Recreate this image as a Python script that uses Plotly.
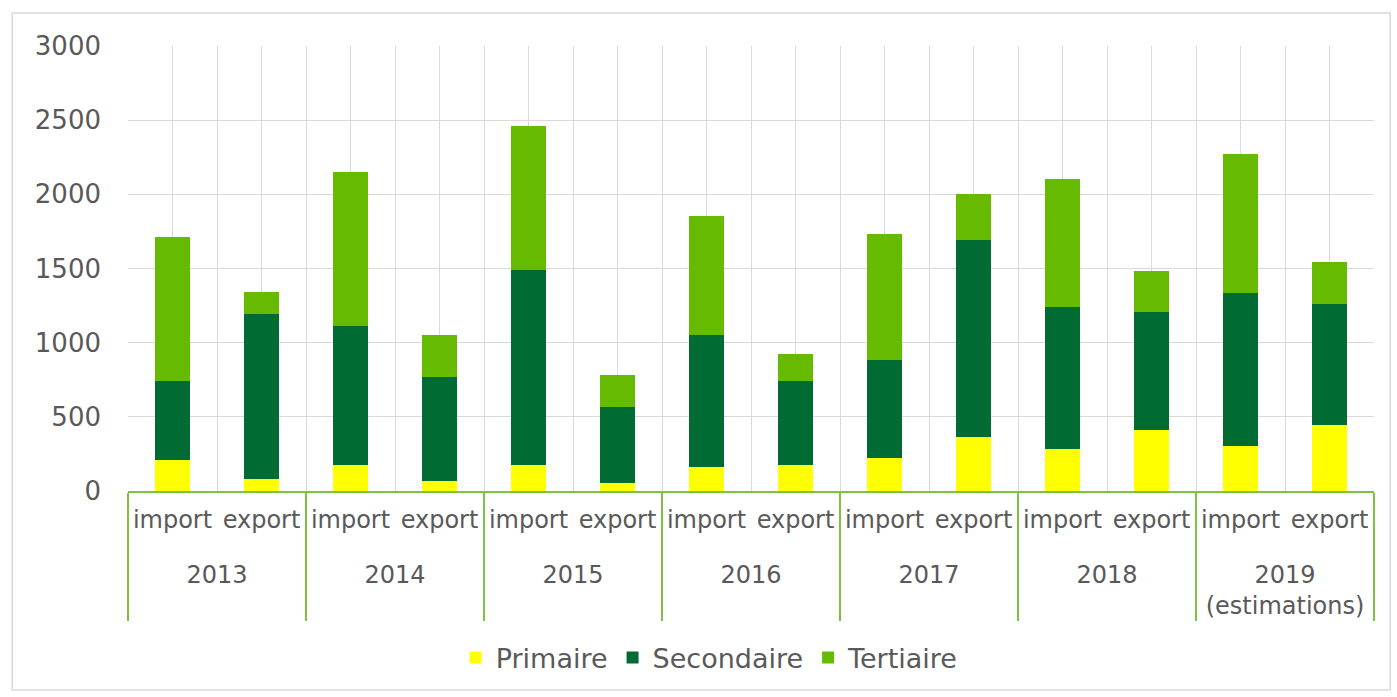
import plotly.graph_objects as go

years = ["<br>2013", "<br>2013", "<br>2014", "<br>2014", "<br>2015", "<br>2015",
         "<br>2016", "<br>2016", "<br>2017", "<br>2017", "<br>2018", "<br>2018",
         "<br>2019<br>(estimations)", "<br>2019<br>(estimations)"]
flows = ["import", "export"] * 7

primaire = [209, 83, 175, 70, 175, 56, 164, 175, 225, 366, 285, 411, 303, 445]
secondaire = [533, 1108, 940, 701, 1313, 512, 890, 567, 658, 1324, 954, 798, 1030, 814]
tertiaire = [973, 151, 1034, 279, 973, 214, 802, 180, 848, 310, 865, 274, 941, 285]

series_names = ["Primaire", "Secondaire", "Tertiaire"]
series_colors = ["#FFFF00", "#006B33", "#66BB00"]
series_values = [primaire, secondaire, tertiaire]

text_color = "#595959"
green_line = "#7DC242"
grid_color = "#D9D9D9"
font_family = "DejaVu Sans, Verdana, sans-serif"

fig = go.Figure()
for name, color, vals in zip(series_names, series_colors, series_values):
    fig.add_trace(go.Bar(x=[years, flows], y=vals, name=name,
                         marker=dict(color=color, line=dict(width=0))))

# helper axis for the extra vertical gridlines through category centres
fig.add_trace(go.Scatter(x=[-0.5, 13.5], y=[0, 0], xaxis="x2", mode="lines",
                         line=dict(width=0), showlegend=False, hoverinfo="skip"))

fig.update_layout(
    width=1397, height=697,
    barmode="stack", bargap=0.61,
    paper_bgcolor="white", plot_bgcolor="white",
    margin=dict(l=128, r=23, t=46, b=206),
    font=dict(family=font_family, color=text_color, size=24),
    xaxis=dict(type="multicategory", showgrid=True, gridcolor=grid_color, gridwidth=1,
               showline=True, linecolor=green_line, linewidth=1.5,
               showdividers=True, dividercolor=green_line, dividerwidth=1.5,
               tickfont=dict(size=24, color=text_color), ticks="", zeroline=False,
               ticklabelstandoff=6),
    xaxis2=dict(overlaying="x", range=[-0.5, 13.5], tick0=0, dtick=1, showgrid=True,
                gridcolor=grid_color, showticklabels=False, zeroline=False, showline=False,
                layer="below traces"),
    yaxis=dict(range=[0, 3000], dtick=500, showgrid=True, gridcolor=grid_color,
               zeroline=False, showline=False, ticks="", ticklabelstandoff=26,
               tickfont=dict(size=26, color=text_color)),
    legend=dict(orientation="h", xref="container", yref="container", x=0.508, y=0.056,
                xanchor="center", yanchor="middle", font=dict(size=27, color=text_color),
                itemwidth=30, traceorder="normal"),
    shapes=[dict(type="rect", xref="paper", yref="paper", x0=-0.093, x1=1.013,
                 y0=-0.447, y1=1.074, line=dict(color="#D9D9D9", width=1.5),
                 fillcolor="rgba(0,0,0,0)", layer="below")],
)

fig.write_html("out.html", config={"displayModeBar": False},
               post_script="document.body.style.margin='0';")
